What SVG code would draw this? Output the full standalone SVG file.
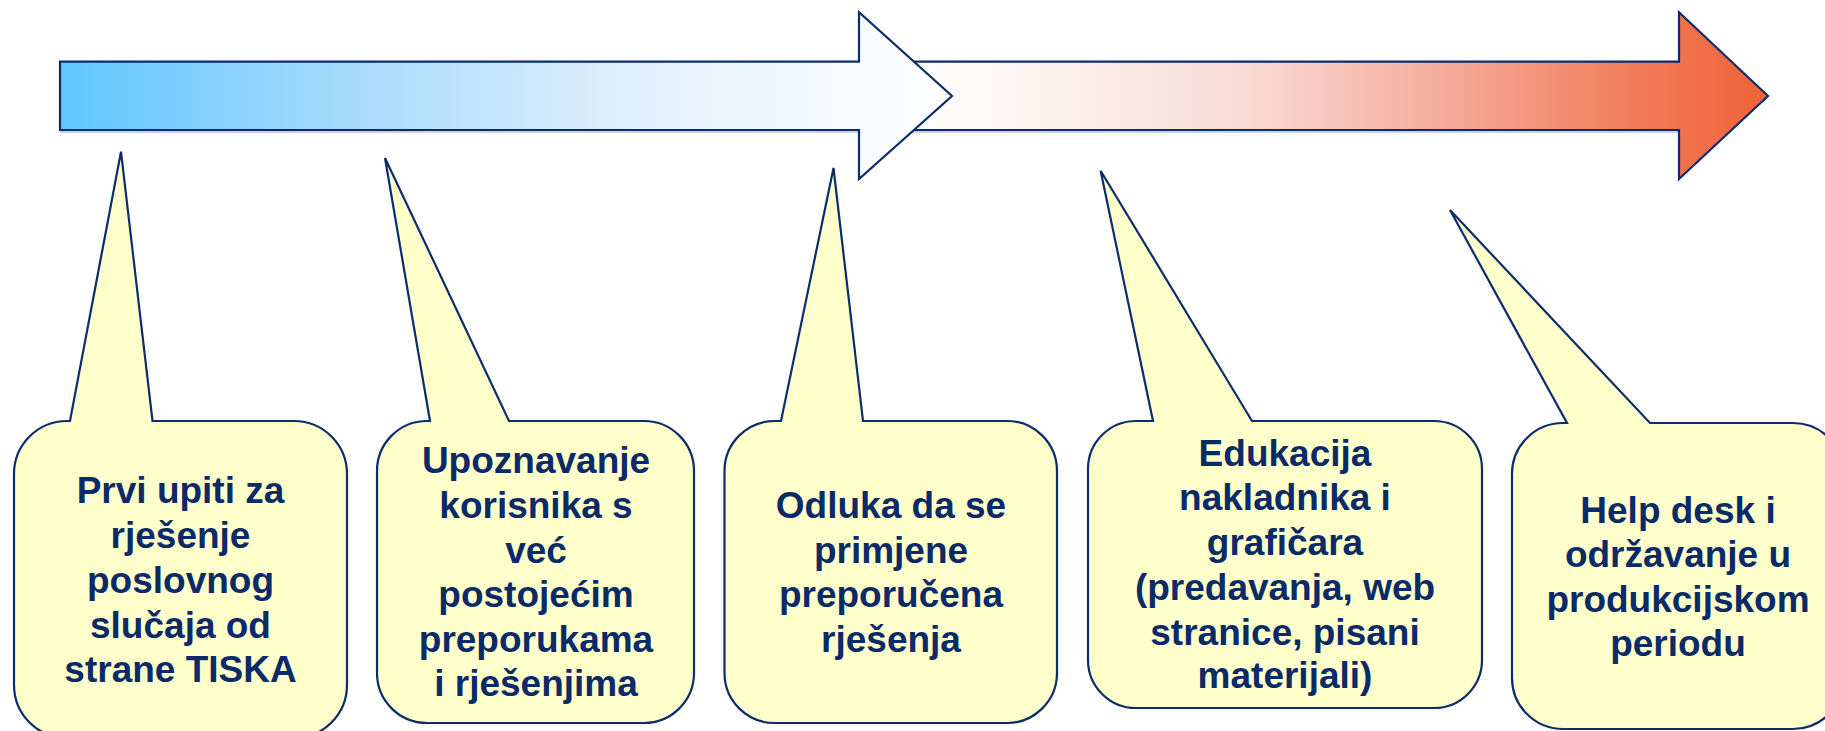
<svg xmlns="http://www.w3.org/2000/svg" width="1825" height="731" viewBox="0 0 1825 731">
<defs>
<linearGradient id="gBlue" gradientUnits="userSpaceOnUse" x1="60" y1="0" x2="952" y2="0">
<stop offset="0" stop-color="#5FC7FF"/>
<stop offset="0.35" stop-color="#ACDCFC"/>
<stop offset="0.65" stop-color="#E2F1FD"/>
<stop offset="0.9" stop-color="#F9FBFF"/>
<stop offset="1" stop-color="#FFFFFF"/>
</linearGradient>
<linearGradient id="gRed" gradientUnits="userSpaceOnUse" x1="900" y1="0" x2="1768" y2="0">
<stop offset="0" stop-color="#FFFFFF"/>
<stop offset="0.15" stop-color="#FDF4F2"/>
<stop offset="0.4" stop-color="#F9DAD5"/>
<stop offset="0.62" stop-color="#F4AD9D"/>
<stop offset="0.85" stop-color="#F17A58"/>
<stop offset="1" stop-color="#EF6236"/>
</linearGradient>
<style>
.arrow{stroke:#0B2D6E;stroke-width:2.2;stroke-linejoin:miter}
.shadow{stroke:#B9C3D6;stroke-width:1.6;fill:none}
.callout{fill:#FFFFCC;stroke:#0B2D6E;stroke-width:2.2;stroke-linejoin:miter}
.t{font-family:"Liberation Sans",Arial,sans-serif;font-weight:bold;font-size:37px;fill:#0B2A68;text-anchor:middle}
</style>
</defs>
<rect width="1825" height="731" fill="#FFFFFF"/>
<g id="timeline">
<line class="shadow" x1="900" y1="132" x2="1679" y2="132"/>
<path id="arrow2" class="arrow" fill="url(#gRed)" d="M900,61.7 L1679,61.7 L1679,12.3 L1768,96 L1679,179 L1679,130 L900,130 Z"/>
<line class="shadow" x1="60" y1="132" x2="859" y2="132"/>
<path id="arrow1" class="arrow" fill="url(#gBlue)" d="M60,61.7 L859,61.7 L859,12.3 L952,96 L859,179 L859,130 L60,130 Z"/>
</g>
<g id="node1">
<path class="callout" d="M67,421 L70,421 L121,151.7 L152.5,421 L294,421 A53,53 0 0 1 347,474 L347,685 A53,53 0 0 1 294,738 L67,738 A53,53 0 0 1 14,685 L14,474 A53,53 0 0 1 67,421 Z"/>
<text class="t" x="180.5" y="503">Prvi upiti za</text>
<text class="t" x="180.5" y="548">rješenje</text>
<text class="t" x="180.5" y="593">poslovnog</text>
<text class="t" x="180.5" y="638">slučaja od</text>
<text class="t" x="180.5" y="682">strane TISKA</text>
</g>
<g id="node2">
<path class="callout" d="M428,421 L430,421 L385,158 L509,421 L644,421 A50,50 0 0 1 694,471 L694,673 A50,50 0 0 1 644,723 L427,723 A50,50 0 0 1 377,673 L377,471 A50,50 0 0 1 427,421 Z"/>
<text class="t" x="536" y="473">Upoznavanje</text>
<text class="t" x="536" y="518">korisnika s</text>
<text class="t" x="536" y="563">već</text>
<text class="t" x="536" y="607">postojećim</text>
<text class="t" x="536" y="652">preporukama</text>
<text class="t" x="536" y="696">i rješenjima</text>
</g>
<g id="node3">
<path class="callout" d="M775,421 L781,421 L833.5,168 L863,421 L1007,421 A50,50 0 0 1 1057,471 L1057,673 A50,50 0 0 1 1007,723 L774.5,723 A50,50 0 0 1 724.5,673 L724.5,471 A50,50 0 0 1 774.5,421 Z"/>
<text class="t" x="891" y="518">Odluka da se</text>
<text class="t" x="891" y="563">primjene</text>
<text class="t" x="891" y="607">preporučena</text>
<text class="t" x="891" y="652">rješenja</text>
</g>
<g id="node4">
<path class="callout" d="M1136,421 L1153,421 L1100.6,170.7 L1252,421 L1434,421 A48,48 0 0 1 1482,469 L1482,660 A48,48 0 0 1 1434,708 L1136,708 A48,48 0 0 1 1088,660 L1088,469 A48,48 0 0 1 1136,421 Z"/>
<text class="t" x="1285" y="466">Edukacija</text>
<text class="t" x="1285" y="510">nakladnika i</text>
<text class="t" x="1285" y="555">grafičara</text>
<text class="t" x="1285" y="600">(predavanja, web</text>
<text class="t" x="1285" y="645">stranice, pisani</text>
<text class="t" x="1285" y="688">materijali)</text>
</g>
<g id="node5">
<path class="callout" d="M1563,423 L1567,423 L1450,210 L1650,423 L1793,423 A51,51 0 0 1 1844,474 L1844,678 A51,51 0 0 1 1793,729 L1563,729 A51,51 0 0 1 1512,678 L1512,474 A51,51 0 0 1 1563,423 Z"/>
<text class="t" x="1678" y="523">Help desk i</text>
<text class="t" x="1678" y="567">održavanje u</text>
<text class="t" x="1678" y="612">produkcijskom</text>
<text class="t" x="1678" y="656">periodu</text>
</g>
</svg>
